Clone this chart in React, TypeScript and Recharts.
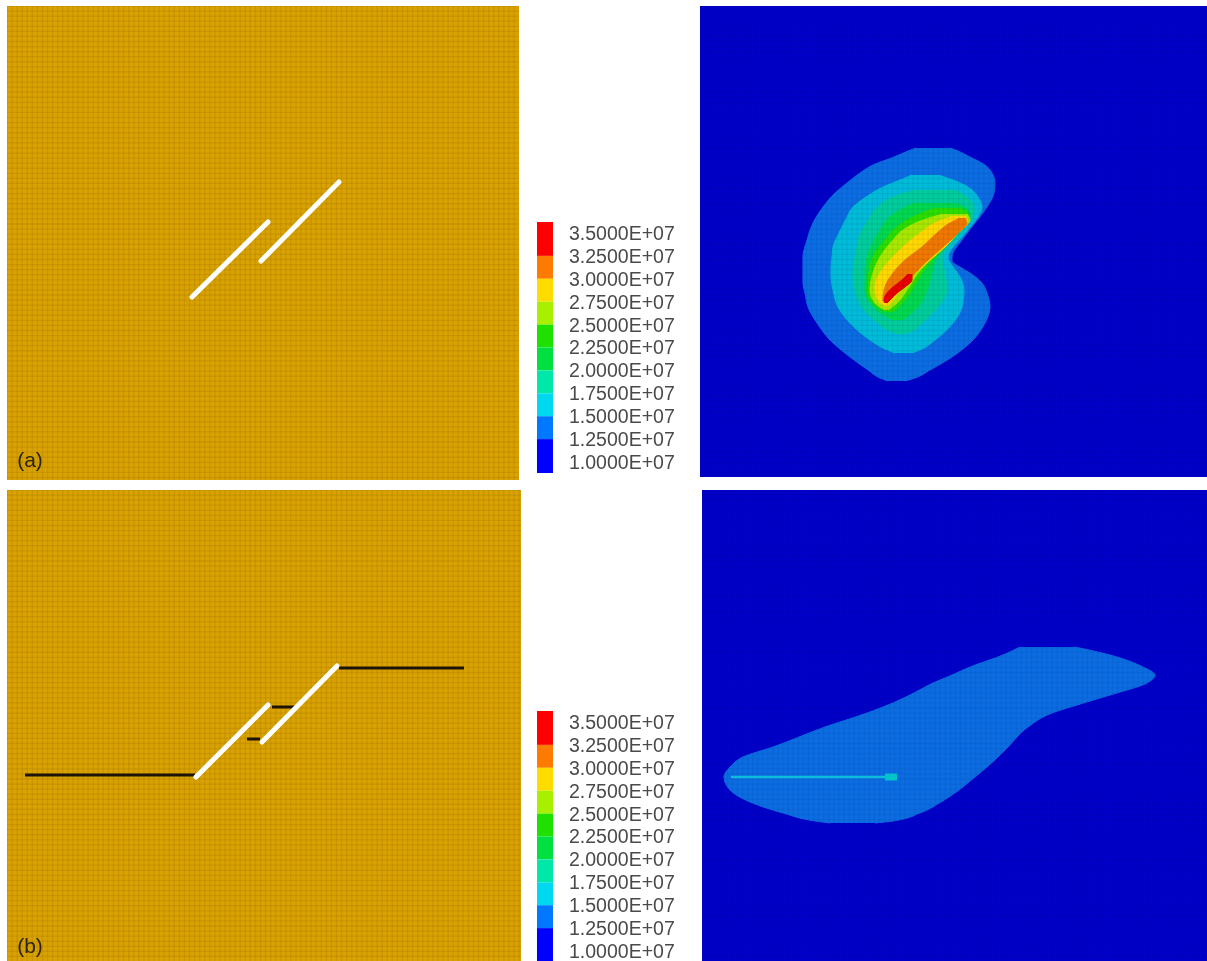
import React from 'react';
import { ComposedChart, Area, Line, XAxis, YAxis, CartesianGrid, ReferenceDot } from 'recharts';

type Band = [number, number, number][]; // [y, left x, right x]

// Upper stress field (a), contour bands, outer to inner
const a125: Band = [[148,916,950],[151,908,958],[157,894,970],[165,873,985],[173,860,992],[183,847,995],[193,835,994],[207,823,987],[223,813,975],[240,807,962],[257,803,952],[261,803,952],[267,803,960],[273,803,970],[283,803,982],[293,805,987],[307,808,990],[323,817,985],[340,830,973],[357,850,952],[370,868,930],[378,880,915],[381,888,905]];
const a150: Band = [[175,912,938],[180,900,953],[187,883,968],[197,866,978],[207,853,982],[217,847,978],[227,842,970],[237,837,962],[247,833,953],[257,832,948],[267,831,953],[277,831,960],[290,833,964],[307,838,962],[323,850,953],[340,870,935],[349,885,922],[353,895,912]];
const a175: Band = [[190,915,955],[197,893,967],[207,878,974],[217,870,973],[227,864,965],[237,859,957],[247,857,948],[257,855,942],[273,853,945],[290,855,947],[307,862,938],[323,878,922],[331,890,912],[334,898,905]];
const a200: Band = [[203,915,955],[210,900,968],[217,890,970],[227,882,962],[237,876,953],[247,871,945],[257,867,937],[273,865,932],[290,865,927],[307,873,918],[316,885,908],[320,893,902]];
const a225: Band = [[208,935,960],[215,917,969],[227,897,963],[240,885,951],[257,873,935],[273,869,922],[290,867,912],[303,873,902],[310,882,895],[312,886,892]];
const a250: Band = [[214,943,967],[220,923,970],[230,903,960],[240,893,950],[257,880,933],[273,873,918],[290,870,907],[303,875,897],[310,885,888]];
const a275: Band = [[216,953,965],[222,937,968],[233,920,958],[247,903,945],[260,890,930],[273,880,915],[287,875,903],[300,878,893],[306,885,888]];
const a300: Band = [[218,960,965],[223,950,967],[233,937,958],[247,922,943],[260,905,928],[273,893,915],[287,885,902],[300,883,889],[303,885,887]];
const a325: Band = [[274,908,912],[280,902,912],[287,893,905],[293,887,897],[300,884,890],[303,885,887]];

// Lower stress field (b)
const b125: Band = [[647,1020,1075],[655,1003,1110],[667,970,1143],[675,952,1155],[683,933,1147],[695,910,1110],[705,888,1077],[713,867,1052],[727,825,1028],[747,773,1008],[757,743,998],[767,730,987],[777,724,975],[790,730,959],[802,750,941],[813,783,920],[821,815,893],[823,830,875]];
const bStreak = [{ y: 777, x: 731 }, { y: 777, x: 890 }];
const bHead = [{ y: 777, x: 885 }, { y: 777, x: 897 }];

// Crack geometry
const aCrackLeft = [{ y: 297, x: 192 }, { y: 222, x: 268 }];
const aCrackRight = [{ y: 261, x: 261 }, { y: 182, x: 339 }];
const bCrackLeft = [{ y: 777, x: 196 }, { y: 705, x: 268 }];
const bCrackRight = [{ y: 742, x: 262 }, { y: 666, x: 337 }];
const bWingLeft = [{ y: 775, x: 25 }, { y: 775, x: 195 }];
const bWingRight = [{ y: 668, x: 339 }, { y: 668, x: 464 }];
const bWingUpper = [{ y: 707, x: 272 }, { y: 707, x: 295 }];
const bWingLower = [{ y: 739, x: 247 }, { y: 739, x: 260 }];

// Colour bar
const levels = [35000000, 32500000, 30000000, 27500000, 25000000, 22500000, 20000000, 17500000, 15000000, 12500000, 10000000];
const barEdges = [36200000, 32500000, 30000000, 27500000, 25000000, 22500000, 20000000, 17500000, 15000000, 12500000, 8800000];
const barColors = ['#ff0000', '#ff7a00', '#ffdc00', '#a8f000', '#20e000', '#00e040', '#00e8a8', '#00d8f0', '#0078ff', '#0000ff'];
const barX = [0, 1];

const bandColors = ['#0c6de2', '#00bcd8', '#00cc9c', '#00d850', '#2ade00', '#a8e800', '#ffd800', '#f07800', '#e80000'];

const toRows = (b: Band) => b.map(([y, l, r]) => ({ y, x: [l, r] }));
const range = (from: number, to: number, step: number) => {
  const out: number[] = [];
  for (let v = from; v <= to + 0.01; v += step) out.push(v);
  return out;
};
const fmt = (v: number) => `${(v / 1e7).toFixed(4)}E+07`;

type PanelProps = {
  left: number; right: number; top: number; bottom: number;
  bg: string; mesh: string;
};

function panelChart({ left, right, top, bottom, bg, mesh }: PanelProps, items: React.ReactNode) {
  const xt = range(left, right, 5.07);
  const yt = range(top, bottom, 5.07);
  return (
    <div style={{ position: 'absolute', left, top, width: right - left, height: bottom - top }}>
      <ComposedChart layout="vertical" width={right - left} height={bottom - top} margin={{ top: 0, right: 0, bottom: 0, left: 0 }}>
        <XAxis type="number" dataKey="x" domain={[left, right]} hide />
        <YAxis type="number" dataKey="y" domain={[top, bottom]} hide />
        <CartesianGrid fill={bg} fillOpacity={1} horizontal={false} vertical={false} />
        {items}
        <CartesianGrid stroke={mesh} strokeWidth={1.3} zIndex={200}
          verticalPoints={xt.map((v) => v - left)} horizontalPoints={yt.map((v) => v - top)} />
      </ComposedChart>
    </div>
  );
}

const area = (b: Band, color: string, key: string) => (
  <Area key={key} data={toRows(b)} dataKey="x" type="monotone" fill={color} fillOpacity={1} stroke={color} strokeWidth={1}
    dot={false} activeDot={false} isAnimationActive={false} />
);
const seg = (data: { x: number; y: number }[], color: string, w: number, key: string, cap: 'round' | 'butt' = 'round') => (
  <Line key={key} data={data} dataKey="x" type="linear" stroke={color} strokeWidth={w} strokeLinecap={cap}
    dot={false} activeDot={false} isAnimationActive={false} />
);
const panelLabel = (x: number, y: number, text: string) => (
  <ReferenceDot key={text} x={x} y={y} r={0} fill="none" stroke="none"
    label={{ value: text, position: 'center', fontSize: 21, fill: '#2c2410', fontFamily: 'Liberation Sans' }} />
);

function ColorBar({ top, height }: { top: number; height: number }) {
  const data = barX.map((x) => {
    const row: Record<string, unknown> = { x };
    barColors.forEach((_, i) => { row[`b${i}`] = [barEdges[i + 1], barEdges[i]]; });
    return row;
  });
  return (
    <div style={{ position: 'absolute', left: 537, top, width: 150, height }}>
      <ComposedChart data={data} width={150} height={height} margin={{ top: 0, right: 0, bottom: 0, left: 0 }}>
        <XAxis type="number" dataKey="x" domain={[0, 1]} hide />
        <YAxis type="number" orientation="right" width={134} domain={[8800000, 36200000]} ticks={levels} interval={0}
          axisLine={false} tickLine={false} tickSize={0} tickMargin={16} tickFormatter={fmt}
          tick={{ fontSize: 19.5, fill: '#4a4a4a', fontFamily: 'Liberation Sans', textAnchor: 'start' }} />
        {barColors.map((c, i) => (
          <Area key={c} dataKey={`b${i}`} type="linear" fill={c} fillOpacity={1} stroke="none" dot={false} activeDot={false} isAnimationActive={false} />
        ))}
      </ComposedChart>
    </div>
  );
}

export default function App() {
  const tan = { bg: '#d8a200', mesh: 'rgba(150,100,0,0.2)' };
  const blue = { bg: '#0000c8', mesh: 'rgba(0,0,60,0.06)' };
  const aBands = [a125, a150, a175, a200, a225, a250, a275, a300, a325];
  return (
    <div style={{ position: 'absolute', left: 0, top: 0, width: 1207, height: 961, overflow: 'hidden', background: '#fff', filter: 'blur(0.7px)' }}>
      {panelChart({ left: 7, right: 519, top: 6, bottom: 480, ...tan }, [
        seg(aCrackLeft, '#ffffff', 5, 'c1'),
        seg(aCrackRight, '#ffffff', 5, 'c2'),
        panelLabel(30, 460, '(a)'),
      ])}
      {panelChart({ left: 700, right: 1207, top: 6, bottom: 477, ...blue },
        aBands.map((b, i) => area(b, bandColors[i], `a${i}`)))}
      {panelChart({ left: 7, right: 521, top: 490, bottom: 961, ...tan }, [
        seg(bWingLeft, '#1c1408', 3, 'w1', 'butt'),
        seg(bWingRight, '#1c1408', 3, 'w2', 'butt'),
        seg(bWingUpper, '#1c1408', 3, 'w3', 'butt'),
        seg(bWingLower, '#1c1408', 3, 'w4', 'butt'),
        seg(bCrackLeft, '#ffffff', 5, 'c3'),
        seg(bCrackRight, '#ffffff', 5, 'c4'),
        panelLabel(30, 946, '(b)'),
      ])}
      {panelChart({ left: 702, right: 1207, top: 490, bottom: 961, ...blue }, [
        area(b125, bandColors[0], 'b0'),
        seg(bStreak, '#10bcdc', 2.6, 's1', 'butt'),
        seg(bHead, '#00c4c8', 7, 's2', 'butt'),
      ])}
      <ColorBar top={222} height={251} />
      <ColorBar top={711} height={251} />
    </div>
  );
}
